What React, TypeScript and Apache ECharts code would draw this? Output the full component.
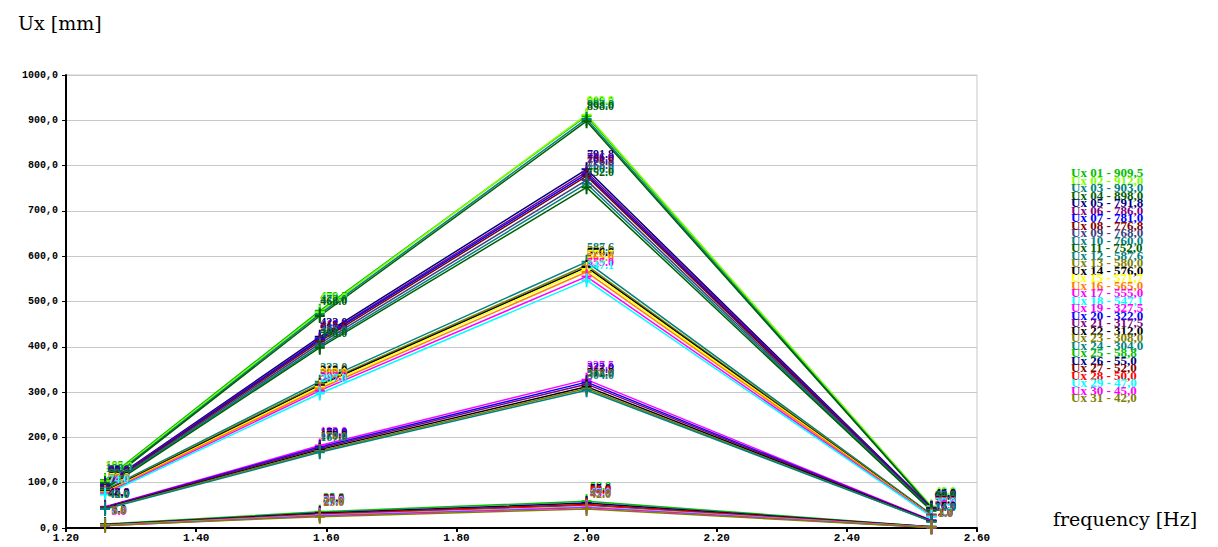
import React, { useEffect, useRef } from "react";
import * as echarts from "echarts";

// Excitation frequencies [Hz] at which displacements were computed
const FREQS = [1.26, 1.59, 2.0, 2.53];

// Axis ticks
const X_MIN = 1.2;
const X_MAX = 2.6;
const X_STEP = 0.2;
const Y_MIN = 0;
const Y_MAX = 1000;
const Y_STEP = 100;

// Displacement Ux [mm] per node, one value per frequency
const NAMES = [
  "Ux 01 - 909,5", "Ux 02 - 912,0", "Ux 03 - 903,0", "Ux 04 - 898,0",
  "Ux 05 - 791,8", "Ux 06 - 786,0", "Ux 07 - 781,0", "Ux 08 - 776,8",
  "Ux 09 - 768,0", "Ux 10 - 760,0", "Ux 11 - 752,0",
  "Ux 12 - 587,6", "Ux 13 - 580,0", "Ux 14 - 576,0", "Ux 15 - 571,7",
  "Ux 16 - 565,0", "Ux 17 - 555,0", "Ux 18 - 547,1",
  "Ux 19 - 327,5", "Ux 20 - 322,0", "Ux 21 - 317,5", "Ux 22 - 312,0",
  "Ux 23 - 308,0", "Ux 24 - 304,0",
  "Ux 25 - 58,8", "Ux 26 - 55,0", "Ux 27 - 52,0", "Ux 28 - 50,0",
  "Ux 29 - 47,0", "Ux 30 - 45,0", "Ux 31 - 42,0",
];

const VALUES: number[][] = [
  [105.9, 479.5, 909.5, 46.5],
  [103.0, 476.0, 912.0, 48.0],
  [100.0, 472.0, 903.0, 45.0],
  [98.0, 468.0, 898.0, 44.0],
  [95.0, 422.0, 791.8, 44.0],
  [94.0, 418.0, 786.0, 43.0],
  [92.0, 415.9, 781.0, 42.0],
  [91.0, 412.0, 776.8, 41.0],
  [89.0, 407.0, 768.0, 40.0],
  [88.0, 402.0, 760.0, 39.0],
  [86.0, 398.0, 752.0, 38.0],
  [84.0, 323.0, 587.6, 30.0],
  [82.0, 318.0, 580.0, 29.0],
  [81.0, 315.0, 576.0, 28.0],
  [79.0, 312.0, 571.7, 27.0],
  [78.0, 308.0, 565.0, 27.0],
  [76.0, 303.2, 555.0, 26.0],
  [74.0, 297.0, 547.1, 25.0],
  [47.0, 182.0, 327.5, 17.0],
  [46.0, 179.0, 322.0, 16.0],
  [45.8, 176.1, 317.5, 16.0],
  [44.0, 173.0, 312.0, 15.0],
  [43.0, 170.0, 308.0, 14.0],
  [42.0, 167.0, 304.0, 14.0],
  [9.0, 35.8, 58.8, 3.0],
  [8.0, 33.0, 55.0, 2.5],
  [7.0, 31.0, 52.0, 2.0],
  [6.5, 30.0, 50.0, 2.0],
  [6.0, 28.0, 47.0, 1.5],
  [5.0, 27.0, 45.0, 1.0],
  [5.6, 25.0, 42.0, 1.0],
];

const COLORS = [
  "#00c000", "#80ff00", "#008080", "#006000",
  "#000080", "#800080", "#0000ff", "#800000",
  "#404080", "#008080", "#006000",
  "#008080", "#808000", "#000000", "#ffff00",
  "#ff8000", "#ff00ff", "#00ffff",
  "#ff00ff", "#0000ff", "#800080", "#000000",
  "#808000", "#008080",
  "#00c000", "#000080", "#800000", "#ff0000",
  "#00ffff", "#ff00ff", "#808000",
];

const CROSS = "path://M4,0h2v14h-2z M0,6h10v2h-10z";

export default function App() {
  const ref = useRef<HTMLDivElement>(null);

  useEffect(() => {
    if (!ref.current) return;
    const chart = echarts.init(ref.current, null, { renderer: "svg" });

    const series = NAMES.map((name, i) => ({
      name,
      type: "line",
      data: FREQS.map((f, j) => [f, VALUES[i][j]]),
      symbol: CROSS,
      symbolSize: [10, 14],
      showAllSymbol: true,
      itemStyle: { color: COLORS[i] },
      lineStyle: { color: COLORS[i], width: 1.5 },
      label: {
        show: true,
        position: "top",
        offset: [14, 3],
        color: COLORS[i],
        fontFamily: "Liberation Serif",
        fontWeight: "bold",
        fontSize: 12,
        formatter: (p: any) => p.value[1].toFixed(1),
      },
      emphasis: { disabled: true },
      z: 3,
    }));

    chart.setOption({
      animation: false,
      backgroundColor: "#ffffff",
      grid: { left: 66, top: 75, right: 241, bottom: 19, show: true, borderColor: "#c8c8c8", borderWidth: 1 },
      legend: {
        orient: "vertical",
        left: 1066,
        top: 166,
        itemGap: -5.5,
        itemWidth: 0,
        itemHeight: 10,
        icon: "rect",
        selectedMode: false,
        padding: 0,
        textStyle: {
          fontFamily: "Liberation Serif",
          fontWeight: "bold",
          fontSize: 13,
          padding: 0,
        },
        data: NAMES.map((n, i) => ({ name: n, textStyle: { color: COLORS[i] } })),
      },
      xAxis: {
        type: "value",
        min: X_MIN,
        max: X_MAX,
        interval: X_STEP,
        axisLine: { show: true, onZero: false, lineStyle: { color: "#000", width: 2 } },
        axisTick: { show: true, length: 4, lineStyle: { color: "#000", width: 2 } },
        splitLine: { show: false },
        axisLabel: {
          color: "#000",
          fontFamily: "Liberation Mono",
          fontWeight: "bold",
          fontSize: 11,
          margin: 4,
          formatter: (v: number) => v.toFixed(2),
        },
      },
      yAxis: {
        type: "value",
        min: Y_MIN,
        max: Y_MAX,
        interval: Y_STEP,
        axisLine: { show: true, lineStyle: { color: "#000", width: 2 } },
        axisTick: { show: true, length: 4, lineStyle: { color: "#000", width: 1 } },
        splitLine: { show: true, lineStyle: { color: "#c8c8c8", width: 1 } },
        axisLabel: {
          color: "#000",
          fontFamily: "Liberation Mono",
          fontWeight: "bold",
          fontSize: 10,
          margin: 8,
          formatter: (v: number) => v.toFixed(1).replace(".", ","),
        },
      },
      graphic: [
        {
          type: "text",
          left: 18,
          top: 13,
          style: { text: "Ux [mm]", fill: "#000", font: "19px 'DejaVu Serif'" },
        },
        {
          type: "text",
          left: 1053,
          top: 509,
          style: { text: "frequency [Hz]", fill: "#000", font: "19px 'DejaVu Serif'" },
        },
      ],
      series,
    });

    return () => chart.dispose();
  }, []);

  return (
    <div
      ref={ref}
      style={{ position: "absolute", left: 0, top: 0, width: 1218, height: 547 }}
    />
  );
}
